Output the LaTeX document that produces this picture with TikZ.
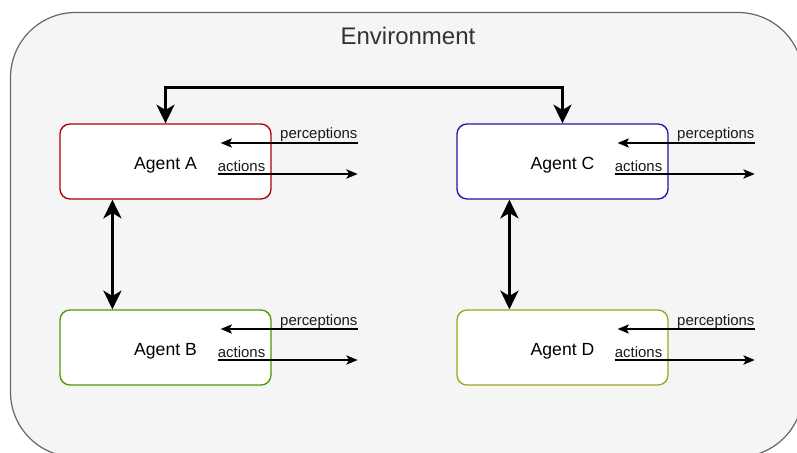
\documentclass[tikz,border=0pt]{standalone}
\usepackage{fontspec}
\setmainfont{Liberation Sans}
\usetikzlibrary{arrows.meta,calc}

\definecolor{envfill}{HTML}{F5F5F5}
\definecolor{envline}{HTML}{666666}
\definecolor{envtext}{HTML}{333333}
\definecolor{agentA}{HTML}{B20000}
\definecolor{agentB}{HTML}{4D9900}
\definecolor{agentC}{HTML}{1A1AA6}
\definecolor{agentD}{HTML}{A3A31A}

\tikzset{
  agent/.style={draw, fill=white, line width=1pt, rounded corners=7.5pt,
    minimum width=158.25pt, minimum height=56.25pt, inner sep=0pt,
    text height=11.7pt, text depth=0pt,
    font=\fontsize{13.2}{15}\selectfont, text=black},
  lbl/.style={inner sep=0pt, font=\fontsize{11.2}{13}\selectfont, text=black!90},
  bigarrow/.style={line width=2.3pt, draw=black,
    {Stealth[length=14pt,width=13.5pt,inset=4pt]}-{Stealth[length=14pt,width=13.5pt,inset=4pt]}},
  thinarrow/.style={line width=0.9pt, draw=black,
    -{Stealth[length=8.5pt,width=7pt,inset=2pt]}},
}

\begin{document}
\begin{tikzpicture}[x=0.75pt,y=-0.75pt]
  \useasboundingbox (0,0) rectangle (797,453);
  \clip (0,0) rectangle (797,453);

  % environment frame
  \draw[fill=envfill, draw=envline, line width=0.9pt, rounded corners=48.75pt]
    (10.5,12.5) rectangle (803,457);
  \node[font=\fontsize{18}{21}\selectfont, text=envtext, anchor=base, inner sep=0pt]
    (env) at (408,44.5) {Environment};

  % agents
  \node[agent, draw=agentA] (A) at (165.5,161.5) {Agent A};
  \node[agent, draw=agentB] (B) at (165.5,347.5) {Agent B};
  \node[agent, draw=agentC] (C) at (562.5,161.5) {Agent C};
  \node[agent, draw=agentD] (D) at (562.5,347.5) {Agent D};

  % communication links between agents
  \draw[bigarrow] (A.north) -- ++(0,-36) -| (C.north);
  \draw[bigarrow] ($(A.south west)!0.25!(A.south east)$) -- ($(B.north west)!0.25!(B.north east)$);
  \draw[bigarrow] ($(C.south west)!0.25!(C.south east)$) -- ($(D.north west)!0.25!(D.north east)$);

  % perceptions in, actions out
  \foreach \n in {A,B,C,D}{
    \coordinate (\n-pin)  at ($(\n.east)+(86,-18.5)$);
    \coordinate (\n-pout) at ($(\n.east)+(-51,-18.5)$);
    \coordinate (\n-ain)  at ($(\n.east)+(-54,12.5)$);
    \coordinate (\n-aout) at ($(\n.east)+(86,12.5)$);
    \draw[thinarrow] (\n-pin) -- (\n-pout);
    \draw[thinarrow] (\n-ain) -- (\n-aout);
    \node[lbl, anchor=base east] (\n-plbl) at ($(\n-pin)+(0,-4)$) {perceptions};
    \node[lbl, anchor=base west] (\n-albl) at ($(\n-ain)+(0,-2.5)$) {actions};
  }
\end{tikzpicture}
\end{document}
